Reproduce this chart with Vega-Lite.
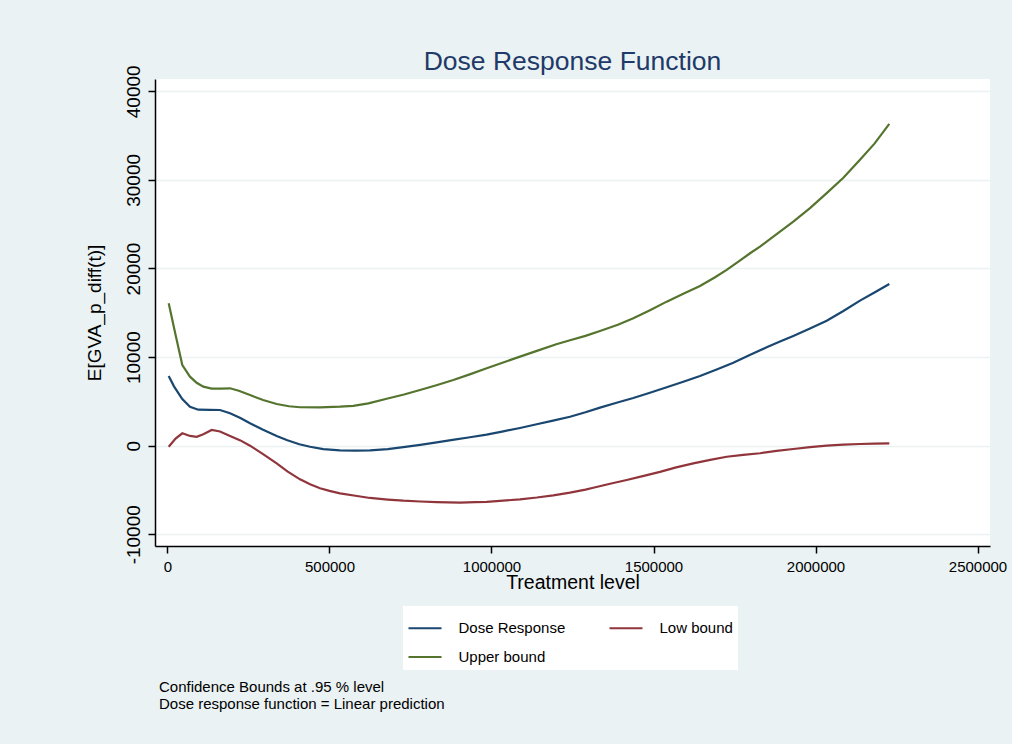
{
  "$schema": "https://vega.github.io/schema/vega-lite/v6.json",
  "width": 835,
  "height": 467,
  "autosize": {"type": "none"},
  "padding": {"left": 155, "top": 79, "right": 22, "bottom": 198},
  "background": "#EAF2F3",
  "view": {"fill": "white", "stroke": null},
  "config": {"font": "Liberation Sans"},
  "title": {
    "text": "Dose Response Function",
    "fontSize": 26.5,
    "font": "Liberation Sans",
    "fontWeight": "normal",
    "color": "#1f3a68",
    "anchor": "middle",
    "frame": "group",
    "baseline": "alphabetic",
    "offset": 0,
    "dy": 32
  },
  "datasets": {
    "curves": [
      {"t": 3700, "series": "Dose Response", "v": 7870},
      {"t": 20000, "series": "Dose Response", "v": 6700},
      {"t": 45700, "series": "Dose Response", "v": 5270},
      {"t": 69400, "series": "Dose Response", "v": 4400},
      {"t": 95000, "series": "Dose Response", "v": 4065},
      {"t": 130000, "series": "Dose Response", "v": 4040},
      {"t": 162000, "series": "Dose Response", "v": 4030},
      {"t": 193000, "series": "Dose Response", "v": 3660},
      {"t": 225000, "series": "Dose Response", "v": 3120},
      {"t": 254600, "series": "Dose Response", "v": 2530},
      {"t": 295000, "series": "Dose Response", "v": 1800},
      {"t": 337000, "series": "Dose Response", "v": 1095},
      {"t": 370000, "series": "Dose Response", "v": 620},
      {"t": 407000, "series": "Dose Response", "v": 158},
      {"t": 440000, "series": "Dose Response", "v": -120},
      {"t": 481000, "series": "Dose Response", "v": -380},
      {"t": 532000, "series": "Dose Response", "v": -520},
      {"t": 580000, "series": "Dose Response", "v": -560},
      {"t": 625000, "series": "Dose Response", "v": -530},
      {"t": 680000, "series": "Dose Response", "v": -380},
      {"t": 727800, "series": "Dose Response", "v": -160},
      {"t": 780000, "series": "Dose Response", "v": 100},
      {"t": 830900, "series": "Dose Response", "v": 380},
      {"t": 880000, "series": "Dose Response", "v": 660},
      {"t": 933600, "series": "Dose Response", "v": 950},
      {"t": 985000, "series": "Dose Response", "v": 1250},
      {"t": 1036400, "series": "Dose Response", "v": 1620},
      {"t": 1088000, "series": "Dose Response", "v": 2000},
      {"t": 1139500, "series": "Dose Response", "v": 2420},
      {"t": 1190000, "series": "Dose Response", "v": 2830},
      {"t": 1242300, "series": "Dose Response", "v": 3270},
      {"t": 1290000, "series": "Dose Response", "v": 3780},
      {"t": 1334900, "series": "Dose Response", "v": 4300},
      {"t": 1386000, "series": "Dose Response", "v": 4850},
      {"t": 1437700, "series": "Dose Response", "v": 5380},
      {"t": 1489000, "series": "Dose Response", "v": 5980},
      {"t": 1540700, "series": "Dose Response", "v": 6590},
      {"t": 1592000, "series": "Dose Response", "v": 7220},
      {"t": 1643500, "series": "Dose Response", "v": 7870},
      {"t": 1695000, "series": "Dose Response", "v": 8600},
      {"t": 1746300, "series": "Dose Response", "v": 9370},
      {"t": 1797000, "series": "Dose Response", "v": 10250},
      {"t": 1849400, "series": "Dose Response", "v": 11100},
      {"t": 1890400, "series": "Dose Response", "v": 11750},
      {"t": 1931500, "series": "Dose Response", "v": 12385},
      {"t": 1983000, "series": "Dose Response", "v": 13230},
      {"t": 2034600, "series": "Dose Response", "v": 14110},
      {"t": 2086000, "series": "Dose Response", "v": 15200},
      {"t": 2137300, "series": "Dose Response", "v": 16370},
      {"t": 2182000, "series": "Dose Response", "v": 17300},
      {"t": 2227800, "series": "Dose Response", "v": 18256},

      {"t": 3700, "series": "Low bound", "v": -110},
      {"t": 25000, "series": "Low bound", "v": 800},
      {"t": 45700, "series": "Low bound", "v": 1400},
      {"t": 69400, "series": "Low bound", "v": 1100},
      {"t": 90000, "series": "Low bound", "v": 1000},
      {"t": 110500, "series": "Low bound", "v": 1300},
      {"t": 136400, "series": "Low bound", "v": 1770},
      {"t": 162000, "series": "Low bound", "v": 1600},
      {"t": 193000, "series": "Low bound", "v": 1100},
      {"t": 225000, "series": "Low bound", "v": 600},
      {"t": 254600, "series": "Low bound", "v": 0},
      {"t": 295000, "series": "Low bound", "v": -950},
      {"t": 337000, "series": "Low bound", "v": -2000},
      {"t": 370000, "series": "Low bound", "v": -2900},
      {"t": 409000, "series": "Low bound", "v": -3800},
      {"t": 440000, "series": "Low bound", "v": -4350},
      {"t": 470700, "series": "Low bound", "v": -4800},
      {"t": 500000, "series": "Low bound", "v": -5100},
      {"t": 532400, "series": "Low bound", "v": -5380},
      {"t": 580000, "series": "Low bound", "v": -5650},
      {"t": 625000, "series": "Low bound", "v": -5900},
      {"t": 680000, "series": "Low bound", "v": -6080},
      {"t": 727800, "series": "Low bound", "v": -6210},
      {"t": 780000, "series": "Low bound", "v": -6300},
      {"t": 830900, "series": "Low bound", "v": -6360},
      {"t": 902800, "series": "Low bound", "v": -6420},
      {"t": 950000, "series": "Low bound", "v": -6380},
      {"t": 985200, "series": "Low bound", "v": -6330},
      {"t": 1036000, "series": "Low bound", "v": -6200},
      {"t": 1088000, "series": "Low bound", "v": -6050},
      {"t": 1140000, "series": "Low bound", "v": -5850},
      {"t": 1190700, "series": "Low bound", "v": -5600},
      {"t": 1242300, "series": "Low bound", "v": -5300},
      {"t": 1290000, "series": "Low bound", "v": -4950},
      {"t": 1314200, "series": "Low bound", "v": -4750},
      {"t": 1366000, "series": "Low bound", "v": -4300},
      {"t": 1417300, "series": "Low bound", "v": -3870},
      {"t": 1470000, "series": "Low bound", "v": -3400},
      {"t": 1520000, "series": "Low bound", "v": -2950},
      {"t": 1570000, "series": "Low bound", "v": -2450},
      {"t": 1622800, "series": "Low bound", "v": -2000},
      {"t": 1675000, "series": "Low bound", "v": -1600},
      {"t": 1725900, "series": "Low bound", "v": -1250},
      {"t": 1777000, "series": "Low bound", "v": -1030},
      {"t": 1828700, "series": "Low bound", "v": -850},
      {"t": 1880000, "series": "Low bound", "v": -580},
      {"t": 1931500, "series": "Low bound", "v": -370},
      {"t": 1983000, "series": "Low bound", "v": -170},
      {"t": 2034600, "series": "Low bound", "v": 0},
      {"t": 2086000, "series": "Low bound", "v": 110},
      {"t": 2137300, "series": "Low bound", "v": 190},
      {"t": 2182000, "series": "Low bound", "v": 240},
      {"t": 2227800, "series": "Low bound", "v": 270},

      {"t": 3700, "series": "Upper bound", "v": 16080},
      {"t": 25000, "series": "Upper bound", "v": 12500},
      {"t": 45700, "series": "Upper bound", "v": 9110},
      {"t": 69400, "series": "Upper bound", "v": 7790},
      {"t": 90000, "series": "Upper bound", "v": 7100},
      {"t": 110500, "series": "Upper bound", "v": 6660},
      {"t": 136400, "series": "Upper bound", "v": 6440},
      {"t": 165000, "series": "Upper bound", "v": 6450},
      {"t": 192900, "series": "Upper bound", "v": 6480},
      {"t": 220000, "series": "Upper bound", "v": 6200},
      {"t": 254600, "series": "Upper bound", "v": 5720},
      {"t": 295000, "series": "Upper bound", "v": 5150},
      {"t": 337000, "series": "Upper bound", "v": 4710},
      {"t": 375000, "series": "Upper bound", "v": 4450},
      {"t": 409000, "series": "Upper bound", "v": 4340},
      {"t": 470700, "series": "Upper bound", "v": 4335},
      {"t": 532400, "series": "Upper bound", "v": 4400},
      {"t": 573500, "series": "Upper bound", "v": 4500},
      {"t": 620000, "series": "Upper bound", "v": 4780},
      {"t": 676500, "series": "Upper bound", "v": 5300},
      {"t": 730000, "series": "Upper bound", "v": 5780},
      {"t": 779300, "series": "Upper bound", "v": 6290},
      {"t": 830000, "series": "Upper bound", "v": 6830},
      {"t": 882100, "series": "Upper bound", "v": 7420},
      {"t": 935000, "series": "Upper bound", "v": 8080},
      {"t": 985200, "series": "Upper bound", "v": 8740},
      {"t": 1036000, "series": "Upper bound", "v": 9400},
      {"t": 1088000, "series": "Upper bound", "v": 10050},
      {"t": 1140000, "series": "Upper bound", "v": 10700},
      {"t": 1200000, "series": "Upper bound", "v": 11450},
      {"t": 1242300, "series": "Upper bound", "v": 11900},
      {"t": 1290000, "series": "Upper bound", "v": 12400},
      {"t": 1334900, "series": "Upper bound", "v": 12950},
      {"t": 1390000, "series": "Upper bound", "v": 13650},
      {"t": 1437700, "series": "Upper bound", "v": 14380},
      {"t": 1489200, "series": "Upper bound", "v": 15300},
      {"t": 1540700, "series": "Upper bound", "v": 16260},
      {"t": 1592000, "series": "Upper bound", "v": 17140},
      {"t": 1643500, "series": "Upper bound", "v": 18030},
      {"t": 1690000, "series": "Upper bound", "v": 19010},
      {"t": 1725900, "series": "Upper bound", "v": 19840},
      {"t": 1762000, "series": "Upper bound", "v": 20780},
      {"t": 1798000, "series": "Upper bound", "v": 21720},
      {"t": 1828700, "series": "Upper bound", "v": 22470},
      {"t": 1890400, "series": "Upper bound", "v": 24160},
      {"t": 1931500, "series": "Upper bound", "v": 25290},
      {"t": 1983000, "series": "Upper bound", "v": 26810},
      {"t": 2034600, "series": "Upper bound", "v": 28500},
      {"t": 2086000, "series": "Upper bound", "v": 30250},
      {"t": 2137300, "series": "Upper bound", "v": 32260},
      {"t": 2182000, "series": "Upper bound", "v": 34090},
      {"t": 2227800, "series": "Upper bound", "v": 36320}
    ]
  },
  "layer": [
    {
      "data": {"name": "curves"},
      "mark": {"type": "line", "strokeWidth": 2.2, "clip": true},
      "encoding": {
        "x": {
          "field": "t",
          "type": "quantitative",
          "scale": {"domain": [-38580, 2538580], "nice": false, "zero": false},
          "axis": {
            "title": "Treatment level",
            "values": [0, 500000, 1000000, 1500000, 2000000, 2500000],
            "format": "d",
            "grid": false,
            "domainColor": "black",
            "domainWidth": 1.5,
            "tickColor": "black",
            "tickWidth": 1.5,
            "tickSize": 7,
            "labelFontSize": 15,
            "labelFont": "Liberation Sans",
            "labelColor": "black",
            "labelPadding": 6,
            "labelFlush": false,
            "labelOverlap": false,
            "titleFontSize": 19.5,
            "titleFont": "Liberation Sans",
            "titleFontWeight": "normal",
            "titleColor": "black",
            "titlePadding": -1
          }
        },
        "y": {
          "field": "v",
          "type": "quantitative",
          "scale": {"domain": [-11321, 41388], "nice": false, "zero": false},
          "axis": {
            "title": "E[GVA_p_diff(t)]",
            "values": [-10000, 0, 10000, 20000, 30000, 40000],
            "labelExpr": "datum.value < 0 ? '-' + format(-datum.value, 'd') : format(datum.value, 'd')",
            "grid": true,
            "gridColor": "#EAF2F3",
            "gridWidth": 1.6,
            "domainColor": "black",
            "domainWidth": 1.5,
            "tickColor": "black",
            "tickWidth": 1.5,
            "tickSize": 7,
            "labelAngle": 270,
            "labelAlign": "center",
            "labelBaseline": "alphabetic",
            "labelFontSize": 19,
            "labelFont": "Liberation Sans",
            "labelColor": "black",
            "labelPadding": 9,
            "labelOverlap": false,
            "labelFlush": false,
            "titleFontSize": 19,
            "titleFont": "Liberation Sans",
            "titleFontWeight": "normal",
            "titleColor": "black",
            "titlePadding": 20
          }
        },
        "color": {
          "field": "series",
          "type": "nominal",
          "scale": {
            "domain": ["Dose Response", "Low bound", "Upper bound"],
            "range": ["#1a476f", "#90353b", "#55752f"]
          },
          "legend": {
            "orient": "none",
            "legendX": 248,
            "legendY": 527,
            "direction": "horizontal",
            "columns": 2,
            "title": null,
            "fillColor": "white",
            "padding": 4.5,
            "symbolType": "stroke",
            "symbolSize": 1089,
            "symbolStrokeWidth": 2,
            "labelFontSize": 15,
            "labelFont": "Liberation Sans",
            "labelColor": "black",
            "labelOffset": 16,
            "columnPadding": 40,
            "rowPadding": 3,
            "labelLimit": 300
          }
        }
      }
    },
    {
      "data": {"values": [{"note": "Confidence Bounds at .95 % level"}]},
      "mark": {"type": "text", "align": "left", "baseline": "alphabetic", "fontSize": 15, "font": "Liberation Sans", "color": "black"},
      "encoding": {
        "x": {"datum": -26235, "type": "quantitative"},
        "y": {"datum": -27856, "type": "quantitative"},
        "text": {"field": "note"}
      }
    },
    {
      "data": {"values": [{"note": "Dose response function = Linear prediction"}]},
      "mark": {"type": "text", "align": "left", "baseline": "alphabetic", "fontSize": 15, "font": "Liberation Sans", "color": "black"},
      "encoding": {
        "x": {"datum": -26235, "type": "quantitative"},
        "y": {"datum": -29662, "type": "quantitative"},
        "text": {"field": "note"}
      }
    }
  ]
}
